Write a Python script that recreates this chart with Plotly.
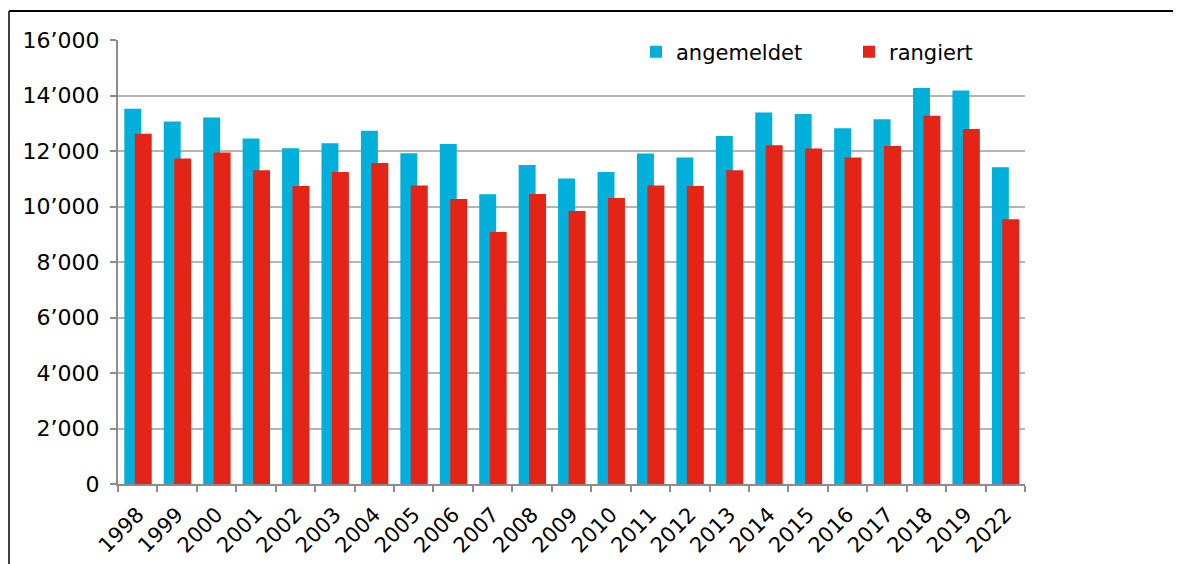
import plotly.graph_objects as go

years = ["1998", "1999", "2000", "2001", "2002", "2003", "2004", "2005", "2006", "2007", "2008",
         "2009", "2010", "2011", "2012", "2013", "2014", "2015", "2016", "2017", "2018", "2019", "2022"]
angemeldet = [13520, 13060, 13210, 12450, 12100, 12280, 12730, 11920, 12250, 10440, 11500,
              11010, 11240, 11910, 11770, 12540, 13390, 13330, 12820, 13140, 14270, 14180, 11410]
rangiert = [12620, 11730, 11950, 11310, 10740, 11240, 11570, 10760, 10270, 9080, 10450,
            9840, 10310, 10760, 10740, 11310, 12210, 12090, 11770, 12180, 13270, 12790, 9540]

FONT = "DejaVu Sans, Verdana, sans-serif"
CYAN = "#00B0DA"
RED = "#E32416"

fig = go.Figure()
fig.add_trace(go.Bar(x=years, y=angemeldet, name="angemeldet", marker_color=CYAN,
                     width=0.43, offset=-0.34, marker_line_width=0))
fig.add_trace(go.Bar(x=years, y=rangiert, name="rangiert", marker_color=RED,
                     width=0.43, offset=-0.075, marker_line_width=0))

OFF = 8  # page body margin offset
W, H = 1181, 564
# plot area in window pixels: x 118..1025, y 40..484.5
L = 118 - OFF
T = 40 - OFF
pw = 1025 - 118
ph = 484.5 - 40
R = W - L - pw
B = H - T - ph

def px(x):
    return (x - 118) / pw

def py(y):
    return (484.5 - y) / ph

fig.update_layout(
    width=W, height=H,
    margin=dict(l=L, r=R, t=T, b=B, autoexpand=False),
    barmode="overlay",
    paper_bgcolor="white", plot_bgcolor="white",
    font=dict(family=FONT, size=21, color="black"),
    separators=".’",
    showlegend=True,
    legend=dict(orientation="h", x=px(636), y=py(52), xanchor="left", yanchor="middle",
                font=dict(size=21), bgcolor="rgba(0,0,0,0)",
                entrywidth=168, entrywidthmode="pixels", traceorder="normal"),
    xaxis=dict(type="category", range=[-0.5, 22.5], tickangle=-45, showgrid=False,
               showline=True, linecolor="#8c8c8c", linewidth=2,
               ticks="outside", ticklen=6, tickcolor="#8c8c8c", tickwidth=2,
               tickson="boundaries", ticklabelstandoff=8, tickfont=dict(size=21)),
    yaxis=dict(range=[0, 16000], dtick=2000, tickformat=",", showgrid=True,
               gridcolor="#b4b4b4", gridwidth=1.5,
               showline=True, linecolor="#8c8c8c", linewidth=2,
               ticks="outside", ticklen=6, tickcolor="#8c8c8c", tickwidth=2,
               ticklabelstandoff=6, tickfont=dict(size=22), zeroline=False),
    shapes=[
        dict(type="line", xref="paper", yref="paper", x0=px(9), x1=px(9), y0=py(600), y1=py(11),
             line=dict(color="black", width=1.5)),
        dict(type="line", xref="paper", yref="paper", x0=px(9), x1=px(1200), y0=py(11), y1=py(11),
             line=dict(color="black", width=2)),
    ],
)

fig.write_html("out.html")
